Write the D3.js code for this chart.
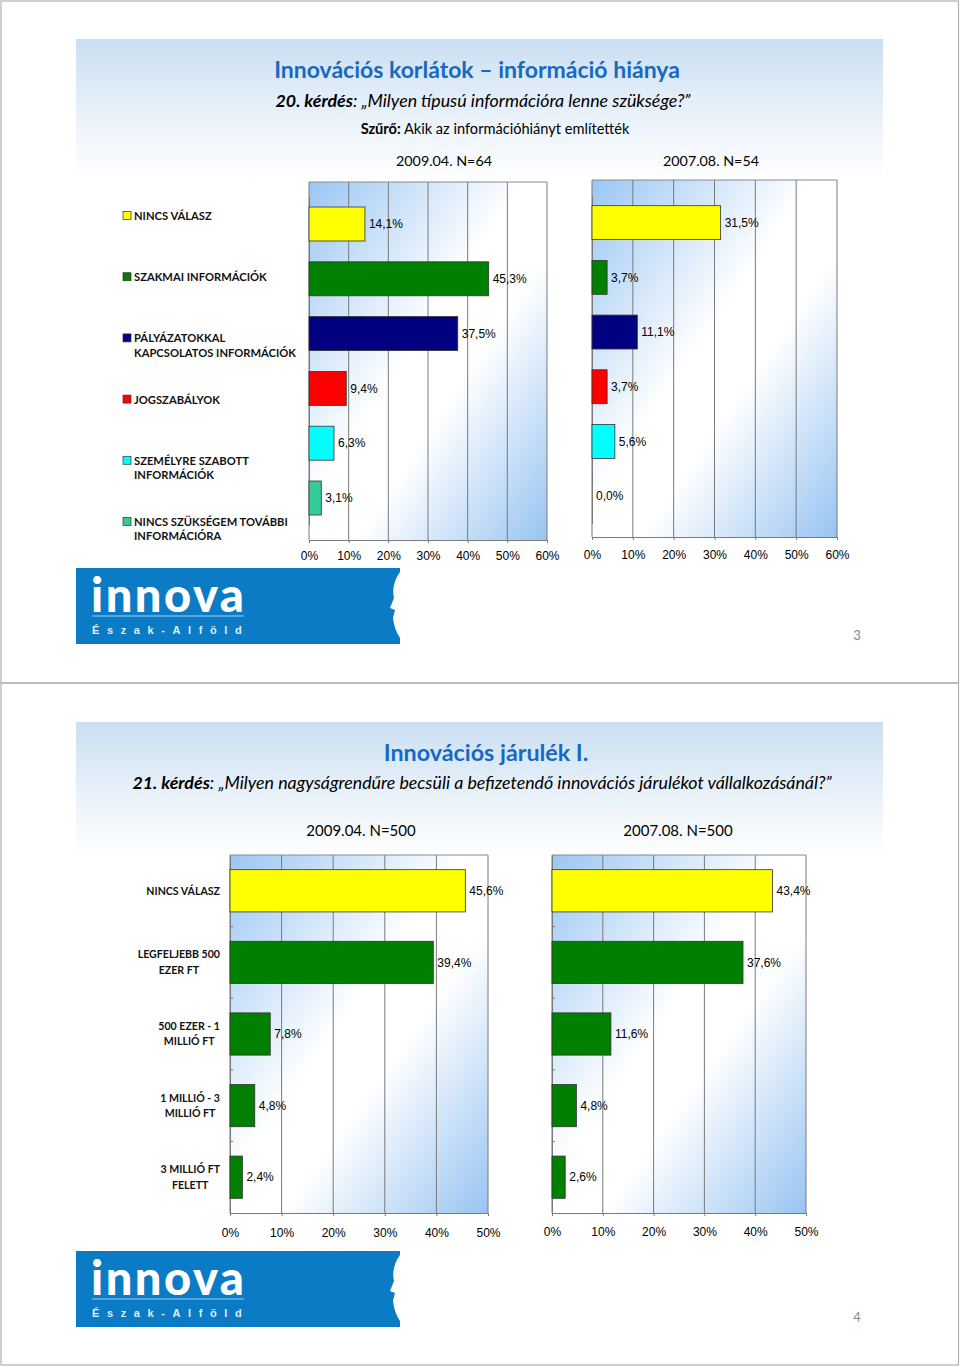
<!DOCTYPE html>
<html>
<head>
<meta charset="utf-8">
<script src="https://cdn.jsdelivr.net/npm/d3@7"></script>
<style>
  html, body { margin: 0; padding: 0; background: #fff; }
  svg { display: block; }
</style>
</head>
<body>
<svg id="chart" width="960" height="1367"></svg>
<script>
// ---------------- DATA ----------------
const categories1 = [
  "NINCS VÁLASZ",
  "SZAKMAI INFORMÁCIÓK",
  "PÁLYÁZATOKKAL\nKAPCSOLATOS INFORMÁCIÓK",
  "JOGSZABÁLYOK",
  "SZEMÉLYRE SZABOTT\nINFORMÁCIÓK",
  "NINCS SZÜKSÉGEM TOVÁBBI\nINFORMÁCIÓRA"
];
const values1_2009 = [14.1, 45.3, 37.5, 9.4, 6.3, 3.1];
const values1_2007 = [31.5, 3.7, 11.1, 3.7, 5.6, 0.0];
const ticks1 = [0, 10, 20, 30, 40, 50, 60];

const categories2 = [
  "NINCS VÁLASZ",
  "LEGFELJEBB 500\nEZER FT",
  "500 EZER - 1\nMILLIÓ FT",
  "1 MILLIÓ - 3\nMILLIÓ FT",
  "3 MILLIÓ FT\nFELETT"
];
const values2_2009 = [45.6, 39.4, 7.8, 4.8, 2.4];
const values2_2007 = [43.4, 37.6, 11.6, 4.8, 2.6];
const ticks2 = [0, 10, 20, 30, 40, 50];

const colors1 = ["#ffff00", "#008000", "#000080", "#ff0000", "#00ffff", "#33cc99"];
const colors2 = ["#ffff00", "#008000", "#008000", "#008000", "#008000"];

// ---------------- SETUP ----------------
const svg = d3.select("#chart");
const defs = svg.append("defs");
const CAL = "Lato, 'Open Sans', sans-serif";
const ARIAL = "'Liberation Sans', Arial, sans-serif";

const hg = defs.append("linearGradient").attr("id", "hdr").attr("x1", 0).attr("y1", 0).attr("x2", 0).attr("y2", 1);
hg.append("stop").attr("offset", 0).attr("stop-color", "#cadff2");
hg.append("stop").attr("offset", 0.55).attr("stop-color", "#eaf2fa");
hg.append("stop").attr("offset", 1).attr("stop-color", "#ffffff");

const pg = defs.append("linearGradient").attr("id", "plotbg").attr("x1", 0).attr("y1", 0).attr("x2", 1).attr("y2", 1);
pg.append("stop").attr("offset", 0).attr("stop-color", "#9ac6f3");
pg.append("stop").attr("offset", 0.45).attr("stop-color", "#ffffff");
pg.append("stop").attr("offset", 0.6).attr("stop-color", "#ffffff");
pg.append("stop").attr("offset", 1).attr("stop-color", "#98c4f2");

// page borders
svg.append("rect").attr("x", 1).attr("y", 1).attr("width", 957.5).attr("height", 682)
  .attr("fill", "none").attr("stroke", "#b0b0b0").attr("stroke-width", 1.2);
svg.append("rect").attr("x", 1).attr("y", 683).attr("width", 957.5).attr("height", 682)
  .attr("fill", "none").attr("stroke", "#b0b0b0").attr("stroke-width", 1.2);

// ---------------- HELPERS ----------------
const fmt = v => d3.format(".1f")(v).replace(".", ",") + "%";

function drawChart(g, o) {
  const x = d3.scaleLinear().domain([0, o.max]).range([o.x0, o.x1]);
  const y = d3.scaleBand().domain(o.cats).range(o.band).paddingInner(o.pad).paddingOuter(o.pad / 2);

  g.append("rect").attr("x", o.x0).attr("y", o.top).attr("width", o.x1 - o.x0).attr("height", o.bottom - o.top)
    .attr("fill", "url(#plotbg)");
  // grid
  g.selectAll(".grid").data(o.ticks).join("line")
    .attr("x1", d => x(d)).attr("x2", d => x(d)).attr("y1", o.top).attr("y2", o.bottom)
    .attr("stroke", "#7a7a7a").attr("stroke-width", 1);
  g.append("line").attr("x1", o.x0).attr("x2", o.x1).attr("y1", o.top).attr("y2", o.top)
    .attr("stroke", "#8a8a8a").attr("stroke-width", 1);

  // x axis
  const ax = g.append("g").attr("transform", `translate(0,${o.bottom})`)
    .call(d3.axisBottom(x).tickValues(o.ticks).tickFormat(d => d + "%").tickSize(3).tickPadding(o.tickPad));
  ax.select(".domain").attr("stroke", "#7a7a7a");
  ax.selectAll(".tick line").attr("stroke", "#7a7a7a");
  ax.selectAll("text").attr("font-family", ARIAL).attr("font-size", 12).attr("fill", "#000");

  // y axis
  const ay = g.append("g").attr("transform", `translate(${o.x0},0)`)
    .call(d3.axisLeft(y).tickSize(0).tickFormat(""));
  ay.select(".domain").attr("stroke", "#7a7a7a");
  if (o.catTicks) {
    const bounds = o.cats.slice(1).map(c => y(c) - y.step() * y.paddingInner() / 2);
    g.selectAll(".ctick").data(bounds).join("line")
      .attr("x1", o.x0).attr("x2", o.x0 + 3).attr("y1", d => d).attr("y2", d => d)
      .attr("stroke", "#7a7a7a");
  }

  // bars
  g.selectAll(".bar").data(o.vals).join("rect")
    .attr("x", x(0)).attr("y", (d, i) => y(o.cats[i]))
    .attr("width", d => Math.max(0, x(d) - x(0))).attr("height", y.bandwidth())
    .attr("fill", (d, i) => o.colors[i])
    .attr("stroke", d => d > 0 ? "#333" : "none").attr("stroke-width", 0.8);

  // labels
  g.selectAll(".lbl").data(o.vals).join("text")
    .attr("x", d => x(d) + 4).attr("y", (d, i) => y(o.cats[i]) + y.bandwidth() / 2)
    .attr("dy", "0.35em").attr("font-family", ARIAL).attr("font-size", 12).attr("fill", "#000")
    .text(d => fmt(d));
  return y;
}

function centerText(g, x, y, parts, size, fill) {
  const t = g.append("text").attr("x", x).attr("y", y).attr("text-anchor", "middle")
    .attr("font-family", CAL).attr("font-size", size).attr("fill", fill || "#000");
  parts.forEach(p => {
    t.append("tspan").text(p.t)
      .attr("font-weight", p.b ? "bold" : "normal")
      .attr("font-style", p.i ? "italic" : "normal");
  });
  return t;
}

function logo(g, x, y) {
  g.append("rect").attr("x", x).attr("y", y).attr("width", 324).attr("height", 76).attr("fill", "#0b7bc6");
  g.append("text").attr("x", x + 15).attr("y", y + 44).attr("font-family", "Lato, sans-serif")
    .attr("font-weight", 900).attr("font-size", 47).attr("fill", "#fff").attr("letter-spacing", 2.5)
    .text("innova");
  g.append("line").attr("x1", x + 16).attr("x2", x + 168).attr("y1", y + 48).attr("y2", y + 48)
    .attr("stroke", "#9fd0f2").attr("stroke-width", 1);
  g.append("text").attr("x", x + 16).attr("y", y + 66).attr("font-family", ARIAL)
    .attr("font-weight", "bold").attr("font-size", 11).attr("fill", "#dff0fb").attr("letter-spacing", 7.6)
    .text("Észak-Alföld");
  // face silhouette cut at right edge
  g.append("path").attr("fill", "#fff")
    .attr("d", `M${x+324},${y+4} C${x+318},${y+12} ${x+316},${y+22} ${x+318},${y+30} L${x+314},${y+40} L${x+319},${y+42} L${x+317},${y+50} C${x+318},${y+58} ${x+320},${y+64} ${x+324},${y+70} Z`);
}

// ---------------- SLIDE 1 ----------------
const s1 = svg.append("g");
s1.append("rect").attr("x", 76).attr("y", 39).attr("width", 807).attr("height", 142).attr("fill", "url(#hdr)");
centerText(s1, 477, 78, [{ t: "Innovációs korlátok – információ hiánya", b: true }], 23, "#1769c2");
centerText(s1, 483, 107, [{ t: "20. kérdés", b: true, i: true }, { t: ": „Milyen típusú információra lenne szüksége?”", i: true }], 17.8, "#000");
centerText(s1, 495, 134, [{ t: "Szűrő:", b: true }, { t: " Akik az információhiányt említették" }], 14.6, "#000");
centerText(s1, 444, 166, [{ t: "2009.04. N=64" }], 14.3, "#000");
centerText(s1, 711, 166, [{ t: "2007.08. N=54" }], 14.3, "#000");

drawChart(s1.append("g"), {
  cats: categories1, vals: values1_2009, colors: colors1, ticks: ticks1, max: 60,
  x0: 309, x1: 547, top: 182, bottom: 540, band: [196.6, 525.4], pad: 0.38, tickPad: 8
});
drawChart(s1.append("g"), {
  cats: categories1, vals: values1_2007, colors: colors1, ticks: ticks1, max: 60,
  x0: 592, x1: 837, top: 180, bottom: 537, band: [195.3, 523.5], pad: 0.38, tickPad: 10
});

// legend
const legY = d3.scalePoint().domain(categories1).range([216, 522]);
const leg = s1.append("g");
categories1.forEach((c, i) => {
  const yy = legY(c);
  leg.append("rect").attr("x", 123).attr("y", yy - 4.5).attr("width", 8).attr("height", 8)
    .attr("fill", colors1[i]).attr("stroke", "#333").attr("stroke-width", 0.7);
  const t = leg.append("text").attr("x", 134).attr("y", yy).attr("dy", "0.35em")
    .attr("font-family", CAL).attr("font-weight", "bold").attr("font-size", 11.2).attr("fill", "#111");
  c.split("\n").forEach((ln, k) => {
    t.append("tspan").attr("x", 134).attr("dy", k === 0 ? "0.35em" : "1.3em").text(ln);
  });
});

s1.append("text").attr("x", 857).attr("y", 640).attr("text-anchor", "middle")
  .attr("font-family", CAL).attr("font-size", 13).attr("fill", "#888").text("3");
logo(s1, 76, 568);

// ---------------- SLIDE 2 ----------------
const s2 = svg.append("g");
s2.append("rect").attr("x", 76).attr("y", 722).attr("width", 807).attr("height", 135).attr("fill", "url(#hdr)");
centerText(s2, 486, 761, [{ t: "Innovációs járulék I.", b: true }], 23.3, "#1769c2");
centerText(s2, 482, 789, [{ t: "21. kérdés", b: true, i: true }, { t: ": „Milyen nagyságrendűre becsüli a befizetendő innovációs járulékot vállalkozásánál?”", i: true }], 17.8, "#000");
centerText(s2, 361, 836, [{ t: "2009.04. N=500" }], 15, "#000");
centerText(s2, 678, 836, [{ t: "2007.08. N=500" }], 15, "#000");

const y2 = drawChart(s2.append("g"), {
  cats: categories2, vals: values2_2009, colors: colors2, ticks: ticks2, max: 50,
  x0: 230, x1: 488, top: 855, bottom: 1213, band: [855, 1213], pad: 0.41, tickPad: 12, catTicks: true
});
drawChart(s2.append("g"), {
  cats: categories2, vals: values2_2007, colors: colors2, ticks: ticks2, max: 50,
  x0: 552, x1: 806, top: 855, bottom: 1213, band: [855, 1213], pad: 0.41, tickPad: 11, catTicks: true
});

// category labels (wrapped, block right-aligned, lines centred)
const cl = s2.append("g");
categories2.forEach(c => {
  const lines = c.split("\n");
  const cy = y2(c) + y2.bandwidth() / 2;
  const tmp = lines.map((ln, k) => cl.append("text").attr("font-family", CAL).attr("font-weight", "bold")
    .attr("font-size", 10.6).attr("fill", "#111").attr("text-anchor", "middle").text(ln));
  const w = d3.max(tmp, t => t.node().getComputedTextLength());
  const cx = 220 - w / 2;
  const lh = 15.5;
  tmp.forEach((t, k) => t.attr("x", cx).attr("y", cy + (k - (lines.length - 1) / 2) * lh).attr("dy", "0.35em"));
});

s2.append("text").attr("x", 857).attr("y", 1322).attr("text-anchor", "middle")
  .attr("font-family", CAL).attr("font-size", 13).attr("fill", "#888").text("4");
logo(s2, 76, 1251);
</script>
</body>
</html>
